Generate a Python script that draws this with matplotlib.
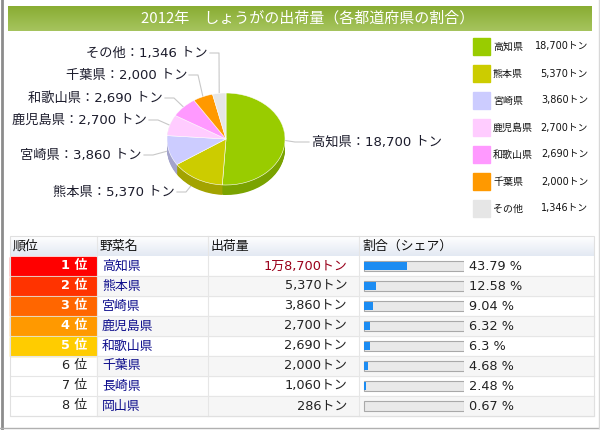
import numpy as np
import matplotlib
matplotlib.use('Agg')
import matplotlib.pyplot as plt
from matplotlib.patches import Rectangle
from matplotlib.colors import to_rgb

# DejaVu first for the wide latin digits, CJK falls through to Noto
plt.rcParams['font.family'] = ['DejaVu Sans', 'Noto Sans CJK JP']

title = '2012年\u3000しょうがの出荷量（各都道府県の割合）'

# pie / legend data
pie_names = ['高知県', '熊本県', '宮崎県', '鹿児島県', '和歌山県', '千葉県', 'その他']
pie_values = [18700, 5370, 3860, 2700, 2690, 2000, 1346]
pie_colors = ['#99CC00', '#CCCC00', '#CCCCFF', '#FFCCFF', '#FF99FF', '#FF9900', '#E6E6E6']

# ranking table data
table_header = ['順位', '野菜名', '出荷量', '割合（シェア）']
rank_names = ['高知県', '熊本県', '宮崎県', '鹿児島県', '和歌山県', '千葉県', '長崎県', '岡山県']
rank_amounts = [18700, 5370, 3860, 2700, 2690, 2000, 1060, 286]
rank_shares = [43.79, 12.58, 9.04, 6.32, 6.3, 4.68, 2.48, 0.67]
rank_colors = ['#FF0000', '#FF3300', '#FF6600', '#FF9900', '#FFCC00']

W, H = 600, 430
fig = plt.figure(figsize=(W / 100, H / 100), dpi=100)

# overlay axes in pixel coords
ax = fig.add_axes([0, 0, 1, 1])
ax.set_xlim(0, W)
ax.set_ylim(H, 0)
ax.axis('off')

# frame
ax.plot([1.5, 1.5], [0, H], color='#8c8c8c', lw=2)
ax.plot([0, W], [428, 428], color='#b0b0b0', lw=1)
ax.plot([598.5, 598.5], [0, 428], color='#d8d8d8', lw=1)

# title bar with gradient
grad = np.linspace(0, 1, 50).reshape(-1, 1)
top_c, bot_c = np.array(to_rgb('#89AD33')), np.array(to_rgb('#A6C45E'))
img = top_c[None, None, :] * (1 - grad[:, :, None]) + bot_c[None, None, :] * grad[:, :, None]
ax.imshow(img, extent=[8, 592, 31, 6], aspect='auto', zorder=1)
ax.text(308, 18.5, title, color='white', fontsize=10.8, ha='center', va='center',
        family=['Noto Sans CJK JP', 'DejaVu Sans'], zorder=2)

# pie (pseudo 3d): stacked layers for the side, top face on top
cx, cy, rx, ry, thick = 226, 139, 59, 46, 10
pax = fig.add_axes([(cx - rx) / W, (H - (cy + ry + thick)) / H, 2 * rx / W, (2 * ry + thick) / H])
t = thick / ry
side_colors = [tuple(np.array(to_rgb(c)) * 0.8) for c in pie_colors]
for off in np.linspace(t, 0.01, 14):
    pax.pie(pie_values, colors=side_colors, startangle=90, counterclock=False,
            center=(0, -off), radius=1, wedgeprops=dict(linewidth=0))
pax.pie(pie_values, colors=pie_colors, startangle=90, counterclock=False,
        center=(0, 0), radius=1, wedgeprops=dict(edgecolor='white', linewidth=0.4))
pax.set_aspect('auto')
pax.set_xlim(-1, 1)
pax.set_ylim(-1 - t, 1)
pax.axis('off')

# pie labels with leader lines
label_y = [142, 192, 155, 120, 98, 75, 53]
label_x = [312, 175, 142, 147, 163, 187, 208]
total = sum(pie_values)
cum = np.cumsum([0] + pie_values) / total
for i, (name, val) in enumerate(zip(pie_names, pie_values)):
    mid = (cum[i] + cum[i + 1]) / 2 * 2 * np.pi
    ex, ey = cx + rx * np.sin(mid), cy - ry * np.cos(mid)
    txt = f'{name}：{val:,} トン'
    if i == 0:
        ax.plot([ex, ex + 10, label_x[i] - 3], [ey, label_y[i], label_y[i]], color='#c8c8c8', lw=0.8)
        ax.text(label_x[i], label_y[i], txt, fontsize=9.5, ha='left', va='center', color='#1c1c2c')
    else:
        kx = label_x[i] + 11
        ax.plot([label_x[i] + 2, kx, ex], [label_y[i], label_y[i], ey], color='#c8c8c8', lw=0.8)
        ax.text(label_x[i], label_y[i], txt, fontsize=9.5, ha='right', va='center', color='#1c1c2c')

# legend
for i, (name, val, col) in enumerate(zip(pie_names, pie_values, pie_colors)):
    yc = 46.5 + i * 27
    ax.add_patch(Rectangle((473, yc - 8.5), 17, 17, color=col))
    ax.text(493, yc, name, fontsize=7.2, ha='left', va='center', color='#111')
    ax.text(588, yc, f'{val:,}トン', fontsize=7, ha='right', va='center', color='#111')

# table
tx0, tx1 = 10, 594
col_x = [10, 97, 208, 359, 594]
head_top, row_h = 236, 20
body_top = head_top + row_h
hg = np.linspace(0, 1, 30).reshape(-1, 1)
h_top, h_bot = np.array(to_rgb('#FFFFFF')), np.array(to_rgb('#E3E9F3'))
himg = h_top[None, None, :] * (1 - hg[:, :, None]) + h_bot[None, None, :] * hg[:, :, None]
ax.imshow(himg, extent=[tx0, tx1, body_top, head_top], aspect='auto', zorder=1)
for j, h in enumerate(table_header):
    ax.text(col_x[j] + 3, head_top + row_h / 2, h, fontsize=9.3, ha='left', va='center', color='#111', zorder=3)

n = len(rank_names)
for i in range(n):
    top = body_top + i * row_h
    if i % 2 == 1:
        ax.add_patch(Rectangle((col_x[1], top), tx1 - col_x[1], row_h, color='#F6F6F6', zorder=1))
    if i < len(rank_colors):
        ax.add_patch(Rectangle((tx0, top + 0.5), col_x[1] - tx0 - 1, row_h - 1, color=rank_colors[i], zorder=2))
        rc, fw = 'white', 'bold'
    else:
        rc, fw = '#222', 'normal'
    ax.plot([tx0, tx1], [top + row_h, top + row_h], color='#E6E6E6', lw=0.8, zorder=2)
    yc = top + row_h / 2
    ax.text(col_x[1] - 10, yc, f'{i + 1} 位', fontsize=9.3, ha='right', va='center', color=rc,
            fontweight=fw, zorder=3)
    ax.text(col_x[1] + 5, yc, rank_names[i], fontsize=9.3, ha='left', va='center', color='#0d0d8c', zorder=3)
    v = rank_amounts[i]
    amt = f'{v // 10000}万{v % 10000:,}トン' if v >= 10000 else f'{v:,}トン'
    ax.text(347, yc, amt, fontsize=9.3, ha='right', va='center',
            color='#99001a' if i == 0 else '#222', zorder=3)
    ax.text(469, yc, f'{rank_shares[i]} %', fontsize=9.3, ha='left', va='center', color='#222', zorder=3)

for x in col_x[1:-1]:
    ax.plot([x, x], [head_top, body_top + n * row_h], color='#E6E6E6', lw=0.8, zorder=2)
ax.add_patch(Rectangle((tx0, head_top), tx1 - tx0, row_h * (n + 1), fill=False,
                       edgecolor='#E0E0E0', lw=0.8, zorder=2))

# share bars
bax = fig.add_axes([363 / W, (H - (body_top + n * row_h)) / H, 101 / W, n * row_h / H])
ypos = np.arange(n)
bax.barh(ypos, [100] * n, height=0.52, color='#E9E9E9', edgecolor='#A9A9A9', linewidth=0.8)
bax.barh(ypos, rank_shares, height=0.42, color='#1C8CF2', linewidth=0)
bax.set_xlim(-0.5, 100.5)
bax.set_ylim(n - 0.5, -0.5)
bax.axis('off')

fig.savefig('out.png', dpi=100)
